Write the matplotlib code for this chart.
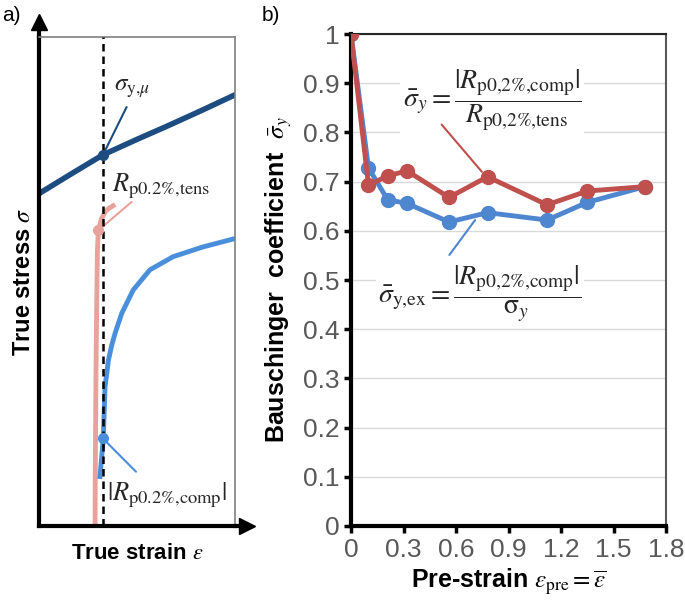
"""Bauschinger effect: schematic stress-strain curves and Bauschinger coefficient vs pre-strain."""

import matplotlib

matplotlib.use("Agg")
import matplotlib.pyplot as plt

# panel b) measured Bauschinger coefficients
PRE_STRAIN = [0.0, 0.1, 0.21, 0.32, 0.56, 0.78, 1.12, 1.35, 1.68]
COEF_TENS = [1.0, 0.693, 0.712, 0.722, 0.668, 0.710, 0.653, 0.681, 0.690]
COEF_EX = [1.0, 0.728, 0.663, 0.656, 0.618, 0.637, 0.622, 0.658, 0.690]
X_TICKS = [0, 0.3, 0.6, 0.9, 1.2, 1.5, 1.8]
X_LABELS = ["0", "0.3", "0.6", "0.9", "1.2", "1.5", "1.8"]
Y_TICKS = [0, 0.1, 0.2, 0.3, 0.4, 0.5, 0.6, 0.7, 0.8, 0.9, 1.0]
Y_LABELS = ["0", "0.1", "0.2", "0.3", "0.4", "0.5", "0.6", "0.7", "0.8", "0.9", "1"]

# panel a) schematic curves (normalised axes, read off the sketch)
MICRO_STRAIN = [0.0, 0.155, 0.325, 0.495, 0.665, 0.835, 1.0]
MICRO_STRESS = [0.680, 0.718, 0.759, 0.790, 0.820, 0.851, 0.882]
TENS_STRAIN = [0.286, 0.287, 0.289, 0.291, 0.294, 0.298, 0.303, 0.318, 0.338, 0.357, 0.378]
TENS_STRESS = [0.006, 0.110, 0.220, 0.330, 0.440, 0.565, 0.605, 0.628, 0.643, 0.650, 0.655]
COMP_STRAIN = [0.311, 0.328, 0.337, 0.354, 0.371, 0.388, 0.422, 0.481, 0.566, 0.685, 0.838, 1.0]
COMP_STRESS = [0.101, 0.179, 0.285, 0.339, 0.370, 0.394, 0.435, 0.483, 0.524, 0.551, 0.571, 0.588]
OFFSET_STRAIN = 0.326
MICRO_YIELD = 0.759
TENS_YIELD = 0.605
COMP_YIELD = 0.179

NAVY = "#1d4d80"
PINK = "#e8a29c"
LIGHT_BLUE = "#4a8fdc"
RED = "#c0504d"
BLUE = "#4f86d0"
TICK_GRAY = "#595959"
TEXT = "#262626"


def main() -> None:
    plt.rcParams["font.family"] = ["Liberation Sans", "DejaVu Sans"]
    plt.rcParams["mathtext.fontset"] = "stix"

    fig = plt.figure(figsize=(6.85, 6.05), dpi=100)

    # ---------------- a) schematic ----------------
    ax1 = fig.add_axes([0.057, 0.1306, 0.286, 0.808])
    ax1.set_xlim(0, 1)
    ax1.set_ylim(0, 1)
    ax1.set_xticks([])
    ax1.set_yticks([])
    for side in ("top", "right"):
        ax1.spines[side].set_color("#7f7f7f")
        ax1.spines[side].set_linewidth(1.2)
    for side in ("left", "bottom"):
        ax1.spines[side].set_linewidth(3)
        ax1.spines[side].set_color("black")
    # axis arrows
    ax1.plot([0, 0], [1.0, 1.02], color="black", lw=3, transform=ax1.transAxes, clip_on=False)
    ax1.plot([1.0, 1.05], [0, 0], color="black", lw=3, transform=ax1.transAxes, clip_on=False)
    ax1.plot(0, 1.03, "^", color="black", ms=12, transform=ax1.transAxes, clip_on=False)
    ax1.plot(1.06, 0, ">", color="black", ms=12, transform=ax1.transAxes, clip_on=False)

    ax1.axvline(OFFSET_STRAIN, color="black", lw=1.8, ls=(0, (3, 2)), zorder=5)

    ax1.plot(MICRO_STRAIN, MICRO_STRESS, color=NAVY, lw=4)
    ax1.plot(TENS_STRAIN, TENS_STRESS, color=PINK, lw=3.5)
    ax1.plot(COMP_STRAIN, COMP_STRESS, color=LIGHT_BLUE, lw=3.5)

    ax1.plot(OFFSET_STRAIN, MICRO_YIELD, "o", color=NAVY, ms=7, zorder=6)
    ax1.plot(0.303, TENS_YIELD, "o", color=PINK, ms=7, zorder=6)
    ax1.plot(OFFSET_STRAIN, COMP_YIELD, "o", color=LIGHT_BLUE, ms=7, zorder=6)

    ax1.annotate("", xy=(OFFSET_STRAIN, MICRO_YIELD), xytext=(0.447, 0.857),
                 arrowprops=dict(arrowstyle="-", color=NAVY, lw=1.5, shrinkA=0, shrinkB=0))
    ax1.annotate("", xy=(0.303, TENS_YIELD), xytext=(0.473, 0.663),
                 arrowprops=dict(arrowstyle="-", color=PINK, lw=1.5, shrinkA=0, shrinkB=0))
    ax1.annotate("", xy=(OFFSET_STRAIN, COMP_YIELD), xytext=(0.495, 0.111),
                 arrowprops=dict(arrowstyle="-", color=LIGHT_BLUE, lw=1.5, shrinkA=0, shrinkB=0))

    ax1.text(0.385, 0.896, r"$\sigma_{\mathrm{y{,}}\mu}$", fontsize=18, va="center", color=TEXT)
    ax1.text(0.37, 0.694, r"$R_{\mathrm{p0.2\%{,}tens}}$", fontsize=19, va="center", color=TEXT)
    ax1.text(0.345, 0.062, r"$|R_{\mathrm{p0.2\%{,}comp}}|$", fontsize=19, va="center", color=TEXT)

    ax1.set_xlabel(r"True strain $\varepsilon$", fontsize=16, fontweight="bold", labelpad=12)
    ax1.set_ylabel(r"True stress $\sigma$", fontsize=17, fontweight="bold", labelpad=3)

    # ---------------- b) Bauschinger coefficient ----------------
    ax2 = fig.add_axes([0.5124, 0.1306, 0.46, 0.813])
    ax2.set_xlim(0, 1.8)
    ax2.set_ylim(0, 1.0)
    ax2.set_xticks(X_TICKS)
    ax2.set_xticklabels(X_LABELS)
    ax2.set_yticks(Y_TICKS)
    ax2.set_yticklabels(Y_LABELS)
    ax2.tick_params(axis="both", labelsize=19, labelcolor=TICK_GRAY, direction="out",
                    length=5, width=2.5, color="black")
    ax2.grid(axis="y", color="#d9d9d9", lw=1)
    ax2.set_axisbelow(True)
    ax2.spines["left"].set_linewidth(3)
    ax2.spines["bottom"].set_linewidth(3)
    ax2.spines["top"].set_linewidth(1.5)
    ax2.spines["top"].set_color(TEXT)
    ax2.spines["right"].set_linewidth(1.5)
    ax2.spines["right"].set_color(TICK_GRAY)

    ax2.plot(PRE_STRAIN, COEF_EX, "-o", color=BLUE, lw=3.5, ms=10, zorder=3)
    ax2.plot(PRE_STRAIN, COEF_TENS, "-o", color=RED, lw=3.5, ms=10, zorder=4)

    ax2.annotate("", xy=(0.748, 0.72), xytext=(0.518, 0.816),
                 arrowprops=dict(arrowstyle="-", color=RED, lw=1.5, shrinkA=0, shrinkB=0))
    ax2.annotate("", xy=(0.709, 0.622), xytext=(0.562, 0.551),
                 arrowprops=dict(arrowstyle="-", color=BLUE, lw=1.5, shrinkA=0, shrinkB=0))

    box = dict(facecolor="white", edgecolor="none", pad=2)
    ax2.text(0.806, 0.866,
             r"$\bar{\sigma}_y = \dfrac{|R_{\mathrm{p0{,}2\%{,}comp}}|}{R_{\mathrm{p0{,}2\%{,}tens}}}$",
             fontsize=20, ha="center", va="center", color=TEXT, bbox=box, zorder=2)
    ax2.text(0.737, 0.474,
             r"$\bar{\sigma}_{\mathrm{y{,}ex}} = \dfrac{|R_{\mathrm{p0{,}2\%{,}comp}}|}{\mathrm{\sigma}_y}$",
             fontsize=20, ha="center", va="center", color=TEXT, bbox=box, zorder=2)

    ax2.set_xlabel(r"Pre-strain $\varepsilon_{\mathrm{pre}} = \overline{\varepsilon}$",
                   fontsize=18, fontweight="bold", labelpad=4)
    ax2.set_ylabel(r"Bauschinger  coefficient  $\bar{\sigma}_y$",
                   fontsize=18, fontweight="bold", labelpad=6)

    fig.text(0.003, 0.975, "a)", fontsize=15, va="center")
    fig.text(0.382, 0.975, "b)", fontsize=15, va="center")

    fig.savefig("out.png", dpi=100)
    plt.close(fig)


if __name__ == "__main__":
    main()
